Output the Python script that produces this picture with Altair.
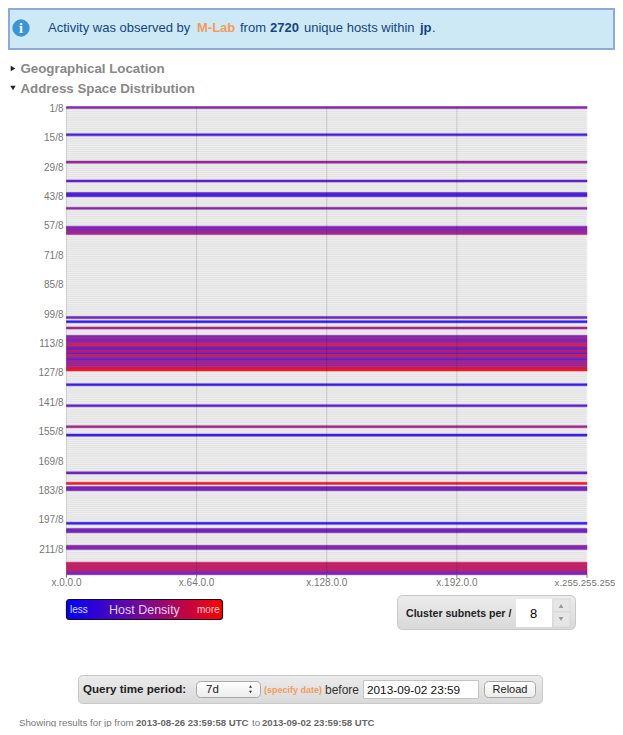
import altair as alt
import pandas as pd

# ---- data ----
occupied_rows = [1, 14, 27, 36, 42, 43, 49, 58, 59, 60, 61, 101, 103, 106,
                 110, 111, 112, 113, 114, 115, 116, 117, 118, 119, 120, 121, 122, 123, 124, 125, 126,
                 133, 143, 153, 157, 175, 180, 182, 183, 199, 202, 203, 210, 211,
                 218, 219, 220, 221, 222, 223]
densities = [0.48, 0.2, 0.55, 0.3, 0.25, 0.2, 0.5, 0.45, 0.45, 0.55, 0.6, 0.35, 0.08, 0.6,
             0.5, 0.55, 0.4, 0.55, 0.9, 0.5, 0.35, 0.75, 0.3, 0.8, 0.6, 0.3, 0.6, 0.55, 0.6, 0.75, 0.95,
             0.15, 0.3, 0.6, 0.15, 0.35, 0.95, 0.4, 0.4, 0.12, 0.4, 0.4, 0.5, 0.45,
             0.72, 0.75, 0.72, 0.75, 0.55, 0.42]
all_rows = list(range(1, 224))
y_ticks = [1, 15, 29, 43, 57, 71, 85, 99, 113, 127, 141, 155, 169, 183, 197, 211]
y_tick_labels = [f"{v}/8" for v in y_ticks]
x_ticks = [0, 64, 128, 192]
x_tick_labels = ["x.0.0.0", "x.64.0.0", "x.128.0.0", "x.192.0.0"]
x_end = [256]
x_end_labels = ["x.255.255.255"]
grid_x = [64, 128, 192]

W, H = 607, 719
PLOT_TOP, PLOT_BOTTOM = 98.45, 566.75
PLOT_LEFT, PLOT_RIGHT = 58.5, 579

one = pd.DataFrame({"a": [0]})
xscale = alt.Scale(domain=[0, 256], range=[PLOT_LEFT, PLOT_RIGHT], nice=False, zero=False)
yscale = alt.Scale(domain=[0.5, 223.5], range=[PLOT_TOP, PLOT_BOTTOM], nice=False, zero=False)
density_scale = alt.Scale(domain=[0, 0.5, 1], range=["#0000ff", "#8010a0", "#ff0000"], interpolate="rgb")

bg = pd.DataFrame({"row_lo": [r - 0.5 for r in all_rows], "row_hi": [r + 0.5 for r in all_rows],
                   "x0": 0, "x1": x_end[0]})
fg = pd.DataFrame({"row_lo": [r - 0.5 for r in occupied_rows], "row_hi": [r + 0.5 for r in occupied_rows],
                   "density": densities, "x0": 0, "x1": x_end[0]})

stripes = alt.Chart(bg).mark_rect(fill="#e2e2e2", stroke="#f1f1f1", strokeWidth=0.6).encode(
    x=alt.X("x0:Q", scale=xscale, axis=None), x2="x1:Q",
    y=alt.Y("row_lo:Q", scale=yscale, axis=None), y2="row_hi:Q")

bars = alt.Chart(fg).mark_rect(strokeWidth=0.5, opacity=0.88).encode(
    x=alt.X("x0:Q", scale=xscale, axis=None), x2="x1:Q",
    y=alt.Y("row_lo:Q", scale=yscale, axis=None), y2="row_hi:Q",
    color=alt.Color("density:Q", legend=None, scale=density_scale),
    stroke=alt.Stroke("density:Q", legend=None, scale=density_scale))

grid = alt.Chart(pd.DataFrame({"g": grid_x})).mark_rule(color="#000", opacity=0.14, strokeWidth=1).encode(
    x=alt.X("g:Q", scale=xscale, axis=None), y=alt.value(PLOT_TOP), y2=alt.value(PLOT_BOTTOM))
left_edge = alt.Chart(one).mark_rule(color="#000", opacity=0.14).encode(
    x=alt.value(PLOT_LEFT), y=alt.value(PLOT_TOP), y2=alt.value(PLOT_BOTTOM))

x_guide = pd.DataFrame({"v": x_ticks, "label": x_tick_labels})
x_end_guide = pd.DataFrame({"v": x_end, "label": x_end_labels})
y_guide = pd.DataFrame({"v": y_ticks, "label": y_tick_labels})
x_tick_marks = alt.Chart(pd.concat([x_guide, x_end_guide])).mark_rule(color="#777", strokeWidth=1).encode(
    x=alt.X("v:Q", scale=xscale, axis=None), y=alt.value(PLOT_BOTTOM), y2=alt.value(PLOT_BOTTOM + 3))
x_tick_text = alt.Chart(x_guide).mark_text(align="center", baseline="middle", fontSize=10, color="#777",
                                           font="Liberation Sans").encode(
    x=alt.X("v:Q", scale=xscale, axis=None), y=alt.value(575), text="label:N")
x_end_text = alt.Chart(x_end_guide).mark_text(align="center", baseline="middle", fontSize=9.6, color="#777",
                                              font="Liberation Sans", dx=-2).encode(
    x=alt.X("v:Q", scale=xscale, axis=None), y=alt.value(575), text="label:N")
y_tick_text = alt.Chart(y_guide).mark_text(align="right", baseline="middle", fontSize=10, color="#777",
                                           font="Liberation Sans", dy=1.3).encode(
    y=alt.Y("v:Q", scale=yscale, axis=None), x=alt.value(55.5), text="label:N")


def px(v):
    return v - 8


def txt(s, x, y, size=12, color="#333", bold=False, align="left", font="Liberation Sans"):
    return alt.Chart(one).mark_text(text=s, align=align, baseline="middle", fontSize=size, color=color,
                                    font=font, fontWeight="bold" if bold else "normal").encode(
        x=alt.value(px(x)), y=alt.value(px(y)))


def box(x0, y0, x1, y1, fill, stroke=None, sw=1, radius=0):
    kw = dict(fill=fill, cornerRadius=radius)
    if stroke:
        kw.update(stroke=stroke, strokeWidth=sw)
    return alt.Chart(one).mark_rect(**kw).encode(
        x=alt.value(px(x0)), x2=alt.value(px(x1)), y=alt.value(px(y0)), y2=alt.value(px(y1)))


def pt(x, y, shape, size, color):
    return alt.Chart(one).mark_point(shape=shape, size=size, filled=True, color=color, opacity=1).encode(
        x=alt.value(px(x)), y=alt.value(px(y)))


def grad(stops, horizontal=False):
    return alt.LinearGradient(gradient="linear",
                              stops=[alt.GradientStop(offset=o, color=c) for o, c in stops],
                              x1=0, y1=0, x2=1 if horizontal else 0, y2=0 if horizontal else 1)


panel = grad([(0, "#ececec"), (1, "#d9d9d9")])
button = grad([(0, "#ffffff"), (1, "#ececec")])
BLUE = "#13457f"
ORANGE = "#f79a5a"

deco = [
    # banner
    box(9, 9, 614, 49, "#cde9f6", "#8eaad6", 2),
    pt(21, 28, "circle", 300, "#3a94d6"),
    txt("i", 21, 29, 14, "#ffffff", True, "center", "Liberation Serif"),
    txt("Activity was observed by", 48, 28, 13, BLUE),
    txt("M-Lab", 197, 28, 13, ORANGE, True),
    txt("from", 240, 28, 13, BLUE),
    txt("2720", 270, 28, 13, BLUE, True),
    txt("unique hosts within", 304, 28, 13, BLUE),
    txt("jp", 420, 28, 13, BLUE, True),
    txt(".", 432, 28, 13, BLUE),
    # section headings
    pt(13, 68.5, "triangle-right", 28, "#222"),
    txt("Geographical Location", 20.5, 68.5, 13.3, "#888", True),
    pt(13, 88, "triangle-down", 28, "#222"),
    txt("Address Space Distribution", 20.5, 88.5, 13.3, "#888", True),
    # density legend
    box(66.5, 599.5, 222.5, 619.5,
        grad([(0, "#0000ff"), (0.5, "#7a0a90"), (1, "#ff0000")], True), "#111", 1.2, 3),
    txt("less", 70, 610, 10, "#dcdcf5"),
    txt("Host Density", 109, 610, 12.5, "#dcd4ea"),
    txt("more", 197, 610, 10, "#f3d3d8"),
    # cluster control
    box(397.5, 595.5, 575.5, 629.5, panel, "#c9c9c9", 1, 5),
    txt("Cluster subnets per /", 406, 614, 10.6, "#222", True),
    box(516, 599, 552, 627, "#ffffff"),
    txt("8", 530, 614, 13, "#000"),
    box(553, 599, 570, 612, "#e6e6e6", "#d0d0d0", 0.6),
    box(553, 612, 570, 627, "#e6e6e6", "#d0d0d0", 0.6),
    pt(561, 606, "triangle-up", 22, "#9a9a9a"),
    pt(561, 619, "triangle-down", 22, "#9a9a9a"),
    # query control
    box(78.5, 675.5, 542.5, 703.5, panel, "#c9c9c9", 1, 4),
    txt("Query time period:", 83, 689.5, 11.6, "#222", True),
    box(196.5, 681.5, 260.5, 697.5, button, "#a8a8a8", 1, 4),
    txt("7d", 206, 689.5, 11.5, "#222"),
    pt(250.5, 686.5, "triangle-up", 9, "#333"),
    pt(250.5, 692, "triangle-down", 9, "#333"),
    txt("(specify date)", 264, 690, 9, ORANGE, True),
    txt("before", 325, 689.5, 12, "#333"),
    box(363.5, 680.5, 478.5, 698.5, "#ffffff", "#c4c4c4", 1),
    txt("2013-09-02 23:59", 367, 689.5, 11.8, "#111"),
    box(484.5, 681.5, 535.5, 697.5, button, "#a8a8a8", 1, 4),
    txt("Reload", 510, 689.5, 11, "#222", False, "center"),
    # footer
    txt("Showing results for jp from", 19, 723, 9.7, "#777"),
    txt("2013-08-26 23:59:58 UTC", 136, 723, 9.6, "#666", True),
    txt("to", 252, 723, 9.7, "#777"),
    txt("2013-09-02 23:59:58 UTC", 262, 723, 9.6, "#666", True),
]

chart = alt.layer(stripes, bars, grid, left_edge, x_tick_marks, x_tick_text, x_end_text, y_tick_text, *deco).properties(
    width=W, height=H, padding=0, background="#ffffff",
    autosize=alt.AutoSizeParams(type="none")
).configure_view(stroke=None)

chart.save("out.html", embed_options={"renderer": "svg", "actions": False})
